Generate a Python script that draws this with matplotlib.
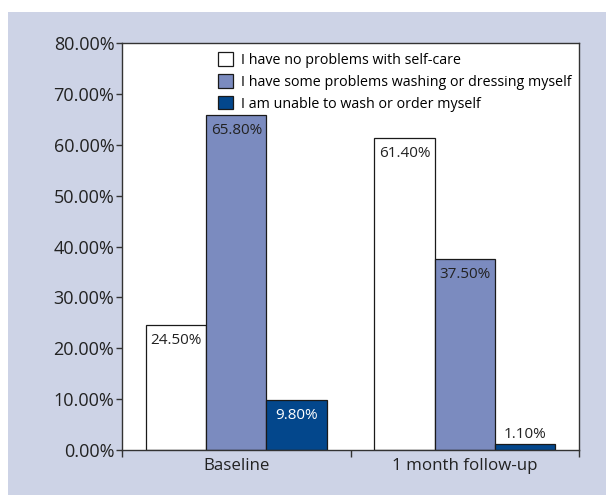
import matplotlib.pyplot as plt
import numpy as np
from matplotlib.patches import Rectangle
from matplotlib.ticker import FuncFormatter

plt.rcParams["font.family"] = ["Open Sans", "DejaVu Sans"]

groups = ["Baseline", "1 month follow-up"]
series_names = [
    "I have no problems with self-care",
    "I have some problems washing or dressing myself",
    "I am unable to wash or order myself",
]
no_problems = [24.5, 61.4]
some_problems = [65.8, 37.5]
unable = [9.8, 1.1]

colors = ["#ffffff", "#7b8bbf", "#03478c"]
text_colors = ["#222222", "#222222", "#ffffff"]
bg = "#cdd3e6"

fig = plt.figure(figsize=(6.06, 4.95), dpi=100)
# lavender panel behind the chart, with a thin white margin at left/top
fig.add_artist(Rectangle((8 / 606, 0), 1, 1 - 12 / 495, transform=fig.transFigure,
                         facecolor=bg, edgecolor="none", zorder=-10))
ax = fig.add_axes([122 / 606, 1 - 450 / 495, 457 / 606, 407 / 495])
ax.set_zorder(1)
ax.set_facecolor("white")

x = np.arange(len(groups))
width = 0.264
all_series = [no_problems, some_problems, unable]
for i, (vals, name) in enumerate(zip(all_series, series_names)):
    pos = x + (i - 1) * width
    ax.bar(pos, vals, width, color=colors[i], edgecolor="#1a1a1a", linewidth=0.9,
           label=name, zorder=2)
    for p, v in zip(pos, vals):
        if v < 5:
            # too thin to hold the label, put it just above
            ax.text(p, v + 0.4, f"{v:.2f}%", ha="center", va="bottom",
                    fontsize=11, color="#222222", zorder=3)
        else:
            ax.text(p, v - 1.6, f"{v:.2f}%", ha="center", va="top",
                    fontsize=11, color=text_colors[i], zorder=3)

ax.set_xlim(-0.5, 1.5)
ax.set_ylim(0, 80)
ax.set_yticks(np.arange(0, 81, 10))
ax.yaxis.set_major_formatter(FuncFormatter(lambda v, _: f"{v:.2f}%"))
ax.set_xticks(x)
ax.set_xticklabels(groups)
ax.set_xticks([-0.5, 0.5, 1.5], minor=True)
ax.tick_params(axis="x", which="major", length=0, labelsize=12.2, pad=6, labelcolor="#222222")
ax.tick_params(axis="x", which="minor", length=5, width=1, color="#333333")
ax.tick_params(axis="y", length=4, width=1, color="#333333", labelsize=13,
               labelcolor="#222222", pad=1.5)
for s in ax.spines.values():
    s.set_color("#333333")
    s.set_linewidth(1)

ax.legend(loc="upper left", bbox_to_anchor=(0.19, 1.0), frameon=False, fontsize=10.3,
          handlelength=1.05, handleheight=1.05, handletextpad=0.55, labelspacing=0.45,
          borderaxespad=0.25)

fig.savefig("out.png", dpi=100)
